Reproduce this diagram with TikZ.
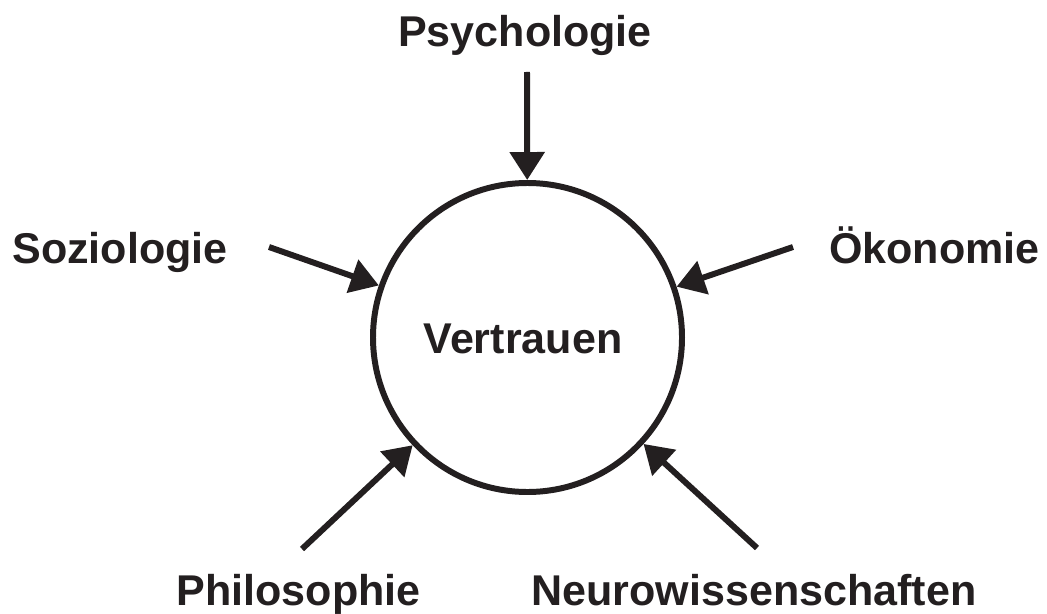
\documentclass[tikz,border=0pt]{standalone}
\usepackage{fontspec}
\setmainfont{Liberation Sans}
\usepackage{xcolor}
\usepackage{tikz}
\usetikzlibrary{arrows.meta}
\usetikzlibrary{positioning}

\definecolor{ink}{HTML}{231F20}

\begin{document}
\begin{tikzpicture}[>={Triangle[length=0.56cm, width=0.68cm]},
  field/.style={font=\bfseries\fontsize{24.5}{29}\selectfont, text=ink, inner sep=0pt},
  feed/.style={->, line width=3.4pt, draw=ink, fill=ink}]
  \useasboundingbox (0,0) rectangle (20.94,12.26);

  % ===== Centre: Vertrauen =====
  \node[circle, draw=ink, line width=3.4pt, minimum size=6.18cm, inner sep=0pt] (vt) at (10.55,5.51) {};
  \node[field, anchor=base] (vtlabel) at (10.46,5.20) {Vertrauen};

  % Disciplines
  \node[field, anchor=base] (psy) at (10.50,11.32) {Psychologie};
  \node[field, anchor=base west] (soz) at (0.24,7.00) {Soziologie};
  \node[field, anchor=base east] (oek) at (20.80,7.00) {Ökonomie};
  \node[field, anchor=base] (phi) at (5.97,0.16) {Philosophie};
  \node[field, anchor=base] (neu) at (15.08,0.16) {Neurowissenschaften};

  % Arrow tails
  \coordinate (psytail) at (10.54,10.82);
  \coordinate (soztail) at (5.38,7.32);
  \coordinate (oektail) at (15.86,7.32);
  \coordinate (phitail) at (6.04,1.28);
  \coordinate (neutail) at (15.14,1.30);

  % Arrows into the circle
  \draw[feed] (psytail) -- (vt);
  \draw[feed] (soztail) -- (vt);
  \draw[feed] (oektail) -- (vt);
  \draw[feed] (phitail) -- (vt);
  \draw[feed] (neutail) -- (vt);
\end{tikzpicture}
\end{document}
